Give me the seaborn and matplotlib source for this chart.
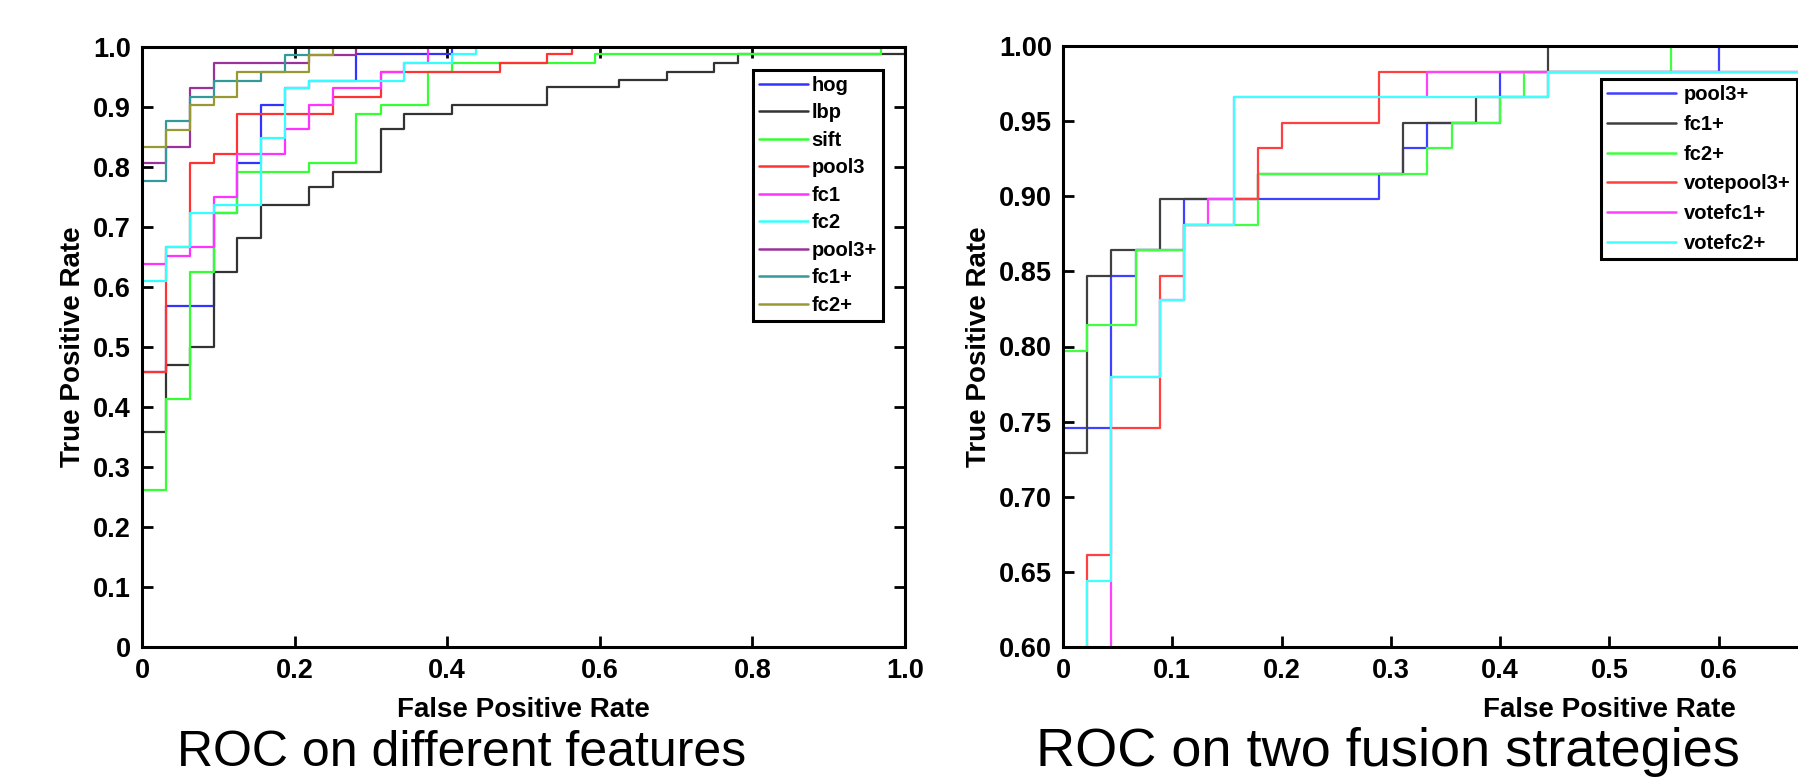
import pandas as pd
import matplotlib

matplotlib.use('Agg')
import matplotlib.pyplot as plt
from matplotlib.lines import Line2D
from matplotlib.ticker import FuncFormatter, MultipleLocator
import seaborn as sns

# ----------------------------------------------------------------------------------------------------------------------
# left panel: ROC on different features
feat_names = ['hog', 'lbp', 'sift', 'pool3', 'fc1', 'fc2', 'pool3+', 'fc1+', 'fc2+']
feat_colors = ['#3333ff', '#333333', '#33ff33', '#ff3333', '#ff33ff', '#33ffff', '#993399', '#339999', '#999933']

hog_fpr = [0, 0, .031, .094, .125, .156, .188, .219, .281, .406, 1.0]
hog_tpr = [0, .458, .568, .723, .807, .903, .931, .944, .988, 1.0, 1.0]
lbp_fpr = [0, 0, .031, .063, .094, .125, .156, .219, .25, .313, .344, .406, .531, .625, .688, .75, .781, 1.0]
lbp_tpr = [0, .359, .47, .5, .625, .681, .737, .767, .792, .863, .888, .903, .933, .945, .959, .974, .989, 1.0]
sift_fpr = [0, 0, .031, .063, .094, .125, .219, .281, .313, .375, .406, .594, .969, 1.0]
sift_tpr = [0, .262, .414, .625, .723, .792, .806, .888, .903, .958, .974, .989, 1.0, 1.0]
pool3_fpr = [0, 0, .031, .063, .094, .125, .25, .313, .469, .531, .563, 1.0]
pool3_tpr = [0, .458, .666, .806, .821, .888, .917, .958, .974, .988, 1.0, 1.0]
fc1_fpr = [0, 0, .031, .063, .094, .125, .188, .219, .25, .313, .344, .375, 1.0]
fc1_tpr = [0, .639, .652, .666, .75, .822, .863, .903, .932, .958, .973, 1.0, 1.0]
fc2_fpr = [0, 0, .031, .063, .094, .156, .188, .219, .344, .406, .438, 1.0]
fc2_tpr = [0, .61, .666, .723, .737, .848, .931, .944, .973, .988, 1.0, 1.0]
pool3p_fpr = [0, 0, .031, .063, .094, .219, .281, 1.0]
pool3p_tpr = [0, .806, .833, .932, .973, .987, 1.0, 1.0]
fc1p_fpr = [0, 0, .031, .063, .094, .156, .188, .219, 1.0]
fc1p_tpr = [0, .777, .877, .917, .944, .958, .987, 1.0, 1.0]
fc2p_fpr = [0, 0, .031, .063, .094, .125, .219, .25, 1.0]
fc2p_tpr = [0, .833, .862, .903, .917, .958, .987, 1.0, 1.0]

# right panel: ROC on two fusion strategies
fus_names = ['pool3+', 'fc1+', 'fc2+', 'votepool3+', 'votefc1+', 'votefc2+']
fus_colors = ['#4040ff', '#404040', '#40ff40', '#ff4040', '#ff40ff', '#40ffff']

f_pool3p_fpr = [0, 0, .044, .067, .111, .289, .311, .333, .4, .6, 1.0]
f_pool3p_tpr = [0, .746, .847, .864, .898, .915, .932, .949, .983, 1.0, 1.0]
f_fc1p_fpr = [0, 0, .022, .044, .089, .178, .311, .378, .444, 1.0]
f_fc1p_tpr = [0, .729, .847, .864, .898, .915, .949, .966, 1.0, 1.0]
f_fc2p_fpr = [0, 0, .022, .067, .111, .178, .333, .356, .4, .422, .556, 1.0]
f_fc2p_tpr = [0, .797, .814, .864, .881, .915, .932, .949, .966, .983, 1.0, 1.0]
votepool3p_fpr = [0, 0, .022, .044, .089, .111, .156, .178, .2, .289, .778, 1.0]
votepool3p_tpr = [0, .576, .661, .746, .847, .881, .898, .932, .949, .983, 1.0, 1.0]
votefc1p_fpr = [0, 0, .044, .089, .111, .133, .156, .333, .778, 1.0]
votefc1p_tpr = [0, .576, .780, .831, .881, .898, .966, .983, 1.0, 1.0]
votefc2p_fpr = [0, 0, .022, .044, .089, .111, .156, .444, .778, 1.0]
votefc2p_tpr = [0, .576, .644, .780, .831, .881, .966, .983, 1.0, 1.0]


def to_long(names, fprs, tprs):
    parts = []
    for n, x, y in zip(names, fprs, tprs):
        parts.append(pd.DataFrame({'fpr': x, 'tpr': y, 'feature': n}))
    return pd.concat(parts, ignore_index=True)


df_feat = to_long(feat_names,
                  [hog_fpr, lbp_fpr, sift_fpr, pool3_fpr, fc1_fpr, fc2_fpr, pool3p_fpr, fc1p_fpr, fc2p_fpr],
                  [hog_tpr, lbp_tpr, sift_tpr, pool3_tpr, fc1_tpr, fc2_tpr, pool3p_tpr, fc1p_tpr, fc2p_tpr])
df_fus = to_long(fus_names,
                 [f_pool3p_fpr, f_fc1p_fpr, f_fc2p_fpr, votepool3p_fpr, votefc1p_fpr, votefc2p_fpr],
                 [f_pool3p_tpr, f_fc1p_tpr, f_fc2p_tpr, votepool3p_tpr, votefc1p_tpr, votefc2p_tpr])

# ----------------------------------------------------------------------------------------------------------------------
sns.set_theme(style='white')
plt.rcParams['font.family'] = ['Liberation Sans', 'DejaVu Sans']
plt.rcParams['font.weight'] = 'bold'
plt.rcParams['axes.labelweight'] = 'bold'
plt.rcParams['text.color'] = 'black'
plt.rcParams['axes.labelcolor'] = 'black'

W, H = 1799, 780
fig = plt.figure(figsize=(W / 100, H / 100), dpi=100)
ax1 = fig.add_axes([142 / W, 133 / H, 763 / W, 600 / H])
ax2 = fig.add_axes([1063 / W, 133 / H, 1093 / W, 601 / H])


def fmt0(v, pos):
    return '0' if abs(v) < 1e-9 else '%.1f' % v


def style(ax, top_right):
    for s in ax.spines.values():
        s.set_linewidth(2.2)
        s.set_color('black')
    ax.tick_params(direction='in', length=8, width=2, top=top_right, right=top_right,
                   bottom=True, left=True, labelsize=19.5, pad=8, colors='black')
    ax.set_xlabel('False Positive Rate', fontsize=20, labelpad=9)
    ax.set_ylabel('True Positive Rate', fontsize=20, labelpad=5)


def legend(ax, names, colors, x, y, **kw):
    handles = [Line2D([], [], color=c, lw=1.8) for c in colors]
    leg = ax.legend(handles, names, loc='upper left', bbox_to_anchor=(x / W, 1 - y / H),
                    bbox_transform=fig.transFigure, borderaxespad=0, fancybox=False,
                    edgecolor='black', framealpha=1, prop={'weight': 'bold', 'size': 14.5}, **kw)
    leg.get_frame().set_linewidth(2.2)


sns.lineplot(data=df_feat, x='fpr', y='tpr', hue='feature', hue_order=feat_names,
             palette=dict(zip(feat_names, feat_colors)), sort=False, estimator=None,
             drawstyle='steps-post', linewidth=1.6, legend=False, ax=ax1)
ax1.set_xlim(0, 1)
ax1.set_ylim(0, 1)
ax1.xaxis.set_major_locator(MultipleLocator(0.2))
ax1.yaxis.set_major_locator(MultipleLocator(0.1))
ax1.xaxis.set_major_formatter(FuncFormatter(fmt0))
ax1.yaxis.set_major_formatter(FuncFormatter(fmt0))
style(ax1, True)
legend(ax1, feat_names, feat_colors, 753, 70, handlelength=2.45, handletextpad=0.15,
       labelspacing=0.42, borderpad=0.3)

sns.lineplot(data=df_fus, x='fpr', y='tpr', hue='feature', hue_order=fus_names,
             palette=dict(zip(fus_names, fus_colors)), sort=False, estimator=None,
             drawstyle='steps-post', linewidth=1.6, legend=False, ax=ax2)
ax2.set_xlim(0, 1)
ax2.set_ylim(0.6, 1.0)
ax2.xaxis.set_major_locator(MultipleLocator(0.1))
ax2.yaxis.set_major_locator(MultipleLocator(0.05))
ax2.xaxis.set_major_formatter(FuncFormatter(fmt0))
ax2.yaxis.set_major_formatter(FuncFormatter(lambda v, p: '%.2f' % v))
style(ax2, False)
legend(ax2, fus_names, fus_colors, 1601, 79, handlelength=3.4, handletextpad=0.4,
       labelspacing=0.53, borderpad=0.32)

fig.text(462 / W, 14 / H, 'ROC on different features', ha='center', va='baseline',
         fontsize=36, fontweight='normal', color='black')
fig.text(1388 / W, 14 / H, 'ROC on two fusion strategies', ha='center', va='baseline',
         fontsize=39, fontweight='normal', color='black')

plt.savefig('out.png', dpi=100)
plt.close()
